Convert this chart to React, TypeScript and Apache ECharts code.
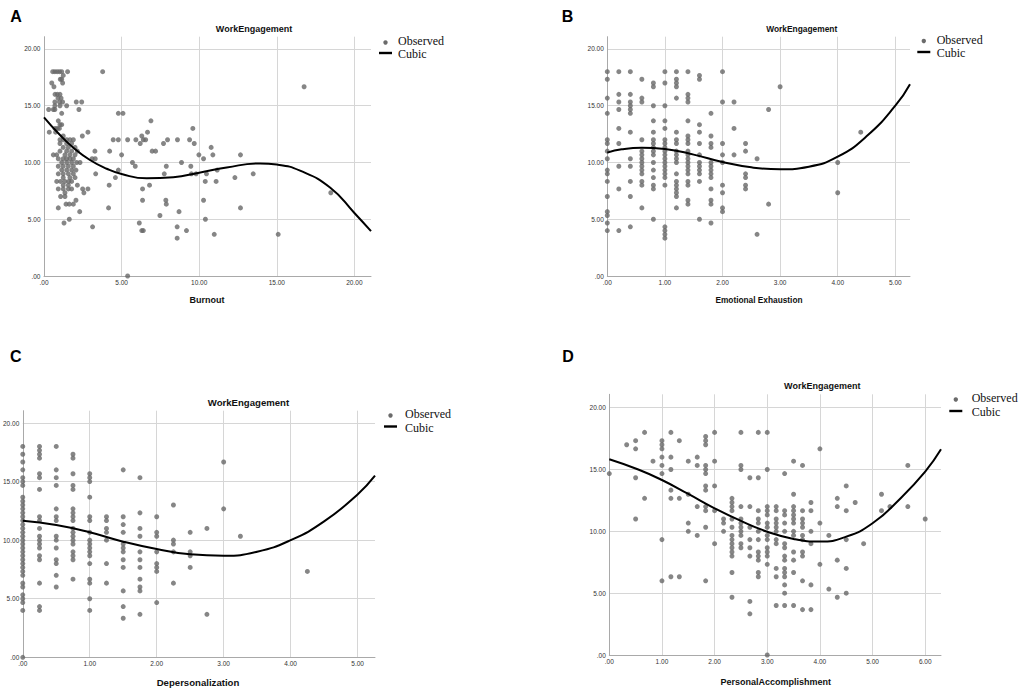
import React, { useEffect, useRef } from "react";
import * as echarts from "echarts";

// ---------- Panel A: Burnout vs WorkEngagement ----------
const burnoutObserved: number[][] = [
  [0.56, 18], [0.7, 18], [0.85, 18], [1.0, 18], [1.14, 18], [1.52, 18], [3.78, 18],
  [1.24, 17.67], [1.05, 17.33], [1.14, 17.33], [0.5, 17], [1.2, 17], [0.64, 16.67],
  [0.71, 16], [0.86, 16], [1.03, 16], [0.9, 15.67], [1.1, 15.67], [1.2, 15.33], [1.0, 15.33],
  [0.7, 15.33], [1.46, 15], [0.7, 15], [1.03, 15], [0.3, 14.67], [0.6, 14.67], [0.7, 14.67],
  [1.14, 14.33], [2.08, 15.33], [2.43, 15.33], [2.25, 14.67],
  [0.92, 13.67], [1.03, 13.33], [1.14, 13.33], [0.71, 13], [0.86, 13], [0.99, 13],
  [0.34, 12.67], [0.75, 12.67], [1.24, 12.33],
  [1.03, 12], [1.24, 12], [1.46, 12], [1.67, 12], [1.89, 12],
  [1.03, 11.67], [1.46, 11.67], [1.78, 11.67],
  [1.24, 11.33], [1.57, 11.33], [2.0, 11.33],
  [1.03, 11], [1.46, 11], [1.78, 11], [2.15, 11],
  [0.6, 10.67], [0.82, 10.67], [1.35, 10.67], [1.67, 10.67], [2.0, 10.67],
  [0.92, 10.33], [1.24, 10.33], [1.46, 10.33], [1.67, 10.33], [1.89, 10.33],
  [1.14, 10], [1.46, 10], [1.78, 10], [2.1, 10],
  [0.92, 9.67], [1.24, 9.67], [1.57, 9.67], [1.89, 9.67],
  [1.14, 9.33], [1.46, 9.33], [1.78, 9.33], [2.06, 9.33],
  [0.92, 9], [1.24, 9], [1.57, 9], [1.89, 9],
  [1.24, 8.67], [1.67, 8.67], [2.0, 8.67],
  [0.82, 8.33], [1.07, 8.33], [1.35, 8.33], [1.6, 8.33], [1.78, 8.33],
  [1.24, 8], [1.57, 8], [2.15, 8],
  [0.92, 7.67], [1.24, 7.67], [1.57, 7.67], [1.78, 7.67],
  [1.35, 7.33], [1.07, 7], [1.35, 7],
  [1.42, 6.33], [1.63, 6.33], [1.89, 6.33], [2.06, 6.67],
  [0.92, 6], [1.63, 5], [1.29, 4.67],
  [16.76, 16.67], [4.79, 14.33], [5.09, 14.33], [6.89, 13.67], [9.59, 13], [6.67, 12.67],
  [2.83, 12.67], [2.47, 12.33], [4.46, 12], [4.79, 12], [5.39, 12], [5.92, 12], [6.3, 12.33],
  [6.4, 12], [6.2, 11.67], [6.55, 12], [7.96, 12], [8.6, 12], [9.38, 12],
  [9.68, 11.67], [7.7, 11.67], [10.77, 11.33], [6.97, 11], [7.19, 11], [4.23, 11], [3.28, 11],
  [5.0, 10.67], [9.98, 10.67], [10.88, 10.67], [12.66, 10.67], [10.28, 10.33], [3.1, 10.33],
  [3.3, 10.33], [2.32, 10], [5.7, 10], [5.88, 9.67], [8.86, 10], [7.88, 9.67], [9.46, 9.67],
  [4.79, 9.33], [4.6, 8.67], [3.33, 9], [7.75, 9], [9.5, 9], [9.8, 9], [10.47, 9], [11.16, 9.33],
  [13.48, 9], [12.3, 8.67], [10.39, 8.33], [11.09, 8.33], [4.2, 8], [6.8, 8], [6.35, 7.67],
  [2.49, 7.67], [2.57, 7.33], [2.83, 7.67], [7.85, 6.67], [7.88, 6.33], [6.35, 6.67],
  [10.28, 6.67], [18.48, 7.33], [12.66, 6], [4.16, 6], [2.3, 5.67], [8.7, 5.67], [7.47, 5.33],
  [10.4, 5], [6.14, 4.67], [6.3, 4], [6.4, 4], [8.58, 4.33], [9.18, 4], [3.13, 4.33],
  [8.58, 3.33], [10.97, 3.67], [15.09, 3.67], [5.39, 0],
];
const burnoutCubic: number[][] = [
  [0, 13.98], [1.03, 12.42], [1.89, 11.3], [2.96, 10.22], [4.04, 9.45], [5, 8.98],
  [6.62, 8.6], [8.33, 8.7], [10, 9.1], [11.77, 9.56], [13.92, 9.92], [15, 9.82],
  [16.5, 9.28], [18.43, 7.8], [20, 5.55], [21.07, 3.95],
];

// ---------- Panel B: Emotional Exhaustion ----------
const exhaustionColumns: [number, number[]][] = [
  [0, [18, 17.33, 15.67, 14.33, 12, 11.67, 11, 10.33, 9.33, 9, 8.33, 7, 5.67, 5.33, 4.67, 4]],
  [0.2, [18, 16, 15.33, 14.67, 13, 11.67, 9.67, 7.67, 4]],
  [0.4, [18, 16, 15.33, 15, 14.67, 14.33, 12.67, 10.33, 9.67, 8.33, 7, 4.33]],
  [0.6, [17.33, 15.67, 15.33, 12, 11, 10.67, 10.33, 10, 9.67, 9.33, 9, 8.33, 8, 6]],
  [0.8, [17, 16.67, 15, 13.67, 12.67, 12, 11.67, 11.33, 11, 10.67, 10, 9.33, 8.67, 8, 7.67, 5]],
  [1.0, [18, 17, 15, 13.67, 13, 12, 11.67, 11.33, 11, 10.67, 10.33, 10, 9.67, 9.33, 9, 8.67, 8, 4.33, 4, 3.67, 3.33]],
  [1.2, [18, 17.33, 17, 16.67, 15.67, 12.67, 12, 11.67, 11, 10.67, 10.33, 10, 9, 8.33, 8, 7.67, 7.33, 7, 6]],
  [1.4, [18, 16, 15.67, 15.33, 13.67, 12.33, 12, 11.67, 11, 10.67, 10.33, 10, 9.67, 9.33, 9, 8.33, 8, 6.67, 6.33]],
  [1.6, [17.67, 17.33, 13.33, 12.67, 11.67, 10.67, 10, 9.67, 9.33, 9, 8.33, 5]],
  [1.8, [14.33, 12.33, 11.67, 11.33, 10, 9.67, 9.33, 9, 8.67, 7.67, 6.67, 6.33, 4.67]],
  [2.0, [18, 15.33, 11.67, 10.67, 10, 8, 7.33, 6, 5.67]],
  [2.2, [15.33, 13, 10.67]],
  [2.4, [11.67, 11, 9, 8.67, 8, 7.67]],
  [2.6, [10.33, 3.67]],
  [2.8, [14.67, 6.33]],
  [3.0, [16.67]],
  [4.0, [10, 7.33]],
  [4.4, [12.67]],
];
const exhaustionCubic: number[][] = [
  [0, 10.87], [0.25, 11.16], [0.6, 11.3], [1, 11.19], [1.5, 10.69], [2, 10.04], [2.5, 9.57],
  [3, 9.4], [3.5, 9.63], [4, 10.51], [4.5, 12.3], [5, 15.0], [5.255, 16.9],
];

// ---------- Panel C: Depersonalization ----------
const depersonalizationColumns: [number, number[]][] = [
  [0, [18, 17.33, 16.67, 16, 15.33, 15, 14.67, 13.67, 13.33, 13, 12.67, 12.33, 12, 11.67, 11.33, 11, 10.67, 10.33, 10, 9.67, 9.33, 9, 8.67, 8.33, 8, 7.67, 7.33, 7, 6.33, 6, 5.33, 5, 4.67, 4, 0]],
  [0.25, [18, 17.67, 17.33, 17, 15.67, 15.33, 14.33, 12, 11.67, 11, 10.33, 10, 9.67, 9.33, 8.67, 8.33, 6.33, 4.33, 4]],
  [0.5, [18, 16, 15.33, 14.67, 12.67, 12, 11.67, 10.33, 10, 9.33, 8.33, 8, 7, 6]],
  [0.75, [17.33, 17, 15.67, 14.67, 14.33, 12.67, 12.33, 12, 11.67, 11, 10.67, 10.33, 10, 9.67, 9, 8.67, 8.33, 6.67]],
  [1.0, [15.67, 15.33, 15, 13.67, 12, 11.67, 10.67, 10, 9.67, 9.33, 9, 8.67, 8, 6.67, 6.33, 5, 4]],
  [1.25, [12, 11.67, 11, 10.67, 10, 8, 6.33]],
  [1.5, [16, 12, 11.33, 10.67, 9.67, 9.33, 9, 8.33, 7.67, 5.67, 4.33, 3.33]],
  [1.75, [15.33, 12.33, 11, 10.33, 9, 8.33, 7.67, 6.67, 6, 5.67, 3.67]],
  [2.0, [12, 10.67, 10.33, 9, 8, 7.67, 7.33, 4.67]],
  [2.25, [13, 10, 9.67, 9, 6.33]],
  [2.5, [10.67, 9, 8.67, 7.67]],
  [2.75, [11, 3.67]],
  [3.0, [16.67, 12.67]],
  [3.25, [10.33]],
  [4.25, [7.33]],
];
const depersonalizationCubic: number[][] = [
  [0, 11.66], [0.5, 11.29], [1, 10.67], [1.5, 9.87], [2, 9.24], [2.5, 8.79], [3, 8.67],
  [3.5, 9.01], [4, 10.0], [4.5, 11.6], [5, 13.9], [5.26, 15.5],
];

// ---------- Panel D: Personal Accomplishment ----------
const accomplishmentColumns: [number, number[]][] = [
  [0, [14.67]],
  [0.33, [17]],
  [0.5, [17.33, 16.67, 14.33, 11]],
  [0.67, [18, 12.67]],
  [0.83, [15.67]],
  [1.0, [17.33, 17, 16.67, 16, 15.33, 14.67, 9.33, 6]],
  [1.17, [18, 16, 15, 13.33, 12.67, 6.33]],
  [1.33, [17.33, 12.67, 6.33]],
  [1.5, [15.67, 13, 10.67, 10]],
  [1.67, [16, 15.33, 12, 9.67]],
  [1.83, [17.67, 17.33, 17, 15.33, 15, 14.67, 13.67, 13.33, 12, 11.67, 10.33, 6]],
  [2.0, [18, 15.67, 13.67, 11.67, 9]],
  [2.17, [11, 10.67, 10]],
  [2.33, [12.67, 12.33, 12, 11.67, 11, 10.33, 9.67, 9.33, 9, 8.67, 8.33, 8, 6.67, 4.67]],
  [2.5, [18, 15.33, 15, 12, 11, 10.67, 10.33, 10, 9.67, 9, 8.67]],
  [2.67, [14.33, 12, 10.33, 9.33, 8.67, 8, 4.33, 3.33]],
  [2.83, [18, 14.33, 11.67, 11, 10.67, 10, 9.33, 8.33, 8, 7.67, 6.67, 6.33]],
  [3.0, [18, 15, 12, 11.67, 11.33, 10.67, 10.33, 9.67, 9.33, 8.67, 8.33, 8, 7.33, 0]],
  [3.17, [12, 11.67, 11, 10.67, 10.33, 10, 9.33, 9, 7, 6.33, 4]],
  [3.33, [14.67, 11.67, 11.33, 10.67, 10, 9, 8.67, 8, 7.67, 7, 6.67, 6.33, 5.67, 5, 4]],
  [3.5, [15.67, 13, 12, 11.67, 11.33, 11, 10.67, 10, 9.67, 8.33, 7.67, 6.67, 4]],
  [3.67, [15.33, 11.67, 11, 10.67, 10.33, 9.67, 9.33, 8.33, 8, 6, 3.67]],
  [3.83, [12.33, 11.67, 10, 9, 5.67, 3.67]],
  [4.0, [16.67, 10.67, 7.33]],
  [4.17, [9.67, 5.33]],
  [4.33, [12.67, 12, 7.67, 4.67]],
  [4.5, [13.67, 11.67, 9.33, 7, 5]],
  [4.67, [12.33]],
  [4.83, [9]],
  [5.17, [13, 11.67]],
  [5.33, [12]],
  [5.67, [15.33, 12]],
  [6.0, [11]],
];
const accomplishmentCubic: number[][] = [
  [0, 15.83], [0.55, 15.0], [1, 14.15], [1.5, 13.02], [2, 11.86], [2.5, 10.84], [3, 9.97],
  [3.5, 9.38], [4, 9.17], [4.5, 9.57], [5, 10.65], [5.5, 12.54], [6, 14.83], [6.3, 16.63],
];

const panelLetters = ["A", "B", "C", "D"];
const panelTitle = "WorkEngagement";
const xAxisNames = ["Burnout", "Emotional Exhaustion", "Depersonalization", "PersonalAccomplishment"];
const legendNames = ["Observed", "Cubic"];

const flatten = (cols: [number, number[]][]) =>
  cols.flatMap(([x, ys]) => ys.map((y) => [x, y]));

const SANS = '"Liberation Sans", Arial, sans-serif';
const SERIF = '"Liberation Serif", "Times New Roman", serif';

// layout per panel (pixels)
const panels = [
  { left: 44, top: 36.7, width: 327, height: 239.3, xMax: 21.07, yMax: 21.08, xInt: 5,
    titleX: 254, titleY: 29, titleSize: 9, nameX: 207, nameY: 300, nameSize: 9,
    letterX: 16, letterY: 16, legX: 379, legY1: 41, legY2: 53, textX: 398 },
  { left: 607.3, top: 36.7, width: 302.7, height: 239.3, xMax: 5.255, yMax: 21.08, xInt: 1,
    titleX: 801.7, titleY: 29, titleSize: 8.4, nameX: 759, nameY: 300, nameSize: 8.3,
    letterX: 567.5, letterY: 16, legX: 917.3, legY1: 39.5, legY2: 52, textX: 936.7 },
  { left: 22, top: 410.7, width: 353, height: 246.6, xMax: 5.26, yMax: 21.05, xInt: 1,
    titleX: 248.5, titleY: 402, titleSize: 9.6, nameX: 198, nameY: 682.7, nameSize: 9.6,
    letterX: 15.7, letterY: 356.5, legX: 384, legY1: 414, legY2: 426.5, textX: 405 },
  { left: 609.3, top: 394.3, width: 331.7, height: 260.7, xMax: 6.3, yMax: 21.08, xInt: 1,
    titleX: 822.3, titleY: 386, titleSize: 9, nameX: 775.7, nameY: 682, nameSize: 9,
    letterX: 568, letterY: 356.5, legX: 949.3, legY1: 398, legY2: 411, textX: 971.7 },
];

const fmt = (v: number) => (v === 0 ? ".00" : v.toFixed(2));

export default function App() {
  const ref = useRef<HTMLDivElement>(null);
  useEffect(() => {
    if (!ref.current) return;
    const chart = echarts.init(ref.current, undefined, { renderer: "svg" });
    const observed = [
      burnoutObserved,
      flatten(exhaustionColumns),
      flatten(depersonalizationColumns),
      flatten(accomplishmentColumns),
    ];
    const cubic = [burnoutCubic, exhaustionCubic, depersonalizationCubic, accomplishmentCubic];

    const axisCommon = (max: number, interval: number, margin: number) => ({
      type: "value" as const,
      min: 0,
      max,
      interval,
      axisLine: { show: true, lineStyle: { color: "#a9a9a9", width: 1 } },
      axisTick: { show: false },
      axisLabel: {
        interval: 0,
        showMaxLabel: false,
        color: "#333",
        fontSize: 6.5,
        fontFamily: SANS,
        margin,
        formatter: (v: number) => (Math.abs(v / interval - Math.round(v / interval)) < 1e-6 ? fmt(v) : ""),
      },
      splitLine: {
        show: true,
        showMinLine: false,
        showMaxLine: false,
        lineStyle: { color: "#d6d6d6", width: 1 },
      },
    });

    const graphics: any[] = [];
    panels.forEach((p, i) => {
      graphics.push({
        type: "text",
        style: { text: panelLetters[i], x: p.letterX, y: p.letterY, align: "center", verticalAlign: "middle",
          font: `bold 16px ${SANS}`, fill: "#000" },
      });
      graphics.push({
        type: "text",
        style: { text: panelTitle, x: p.titleX, y: p.titleY, align: "center", verticalAlign: "middle",
          font: `bold ${p.titleSize}px ${SANS}`, fill: "#111" },
      });
      graphics.push({
        type: "text",
        style: { text: xAxisNames[i], x: p.nameX, y: p.nameY, align: "center", verticalAlign: "middle",
          font: `bold ${p.nameSize}px ${SANS}`, fill: "#111" },
      });
      graphics.push({
        type: "circle",
        shape: { cx: p.legX + 6.5, cy: p.legY1 + 1.5, r: 2.2 },
        style: { fill: "#6b6b6b" },
      });
      graphics.push({
        type: "rect",
        shape: { x: p.legX, y: p.legY2 - 1.2, width: 13, height: 2.4 },
        style: { fill: "#000" },
      });
      graphics.push({
        type: "text",
        style: { text: legendNames[0], x: p.textX, y: p.legY1, align: "left", verticalAlign: "middle",
          font: `12px ${SERIF}`, fill: "#111" },
      });
      graphics.push({
        type: "text",
        style: { text: legendNames[1], x: p.textX, y: p.legY2 + 1, align: "left", verticalAlign: "middle",
          font: `12px ${SERIF}`, fill: "#111" },
      });
    });

    chart.setOption({
      animation: false,
      backgroundColor: "#fff",
      grid: panels.map((p) => ({ left: p.left, top: p.top, width: p.width, height: p.height })),
      xAxis: panels.map((p, i) => ({ ...axisCommon(p.xMax, p.xInt, 3), gridIndex: i })),
      yAxis: panels.map((p, i) => ({ ...axisCommon(p.yMax, 5, 3.5), gridIndex: i })),
      series: [
        ...observed.map((d, i) => ({
          type: "scatter",
          name: legendNames[0],
          xAxisIndex: i,
          yAxisIndex: i,
          data: d,
          symbolSize: 5,
          itemStyle: { color: "#686868" },
          z: 2,
        })),
        ...cubic.map((d, i) => ({
          type: "line",
          name: legendNames[1],
          xAxisIndex: i,
          yAxisIndex: i,
          data: d,
          smooth: 0.5,
          showSymbol: false,
          lineStyle: { color: "#000", width: 2 },
          z: 3,
        })),
      ],
      graphic: graphics,
    });
    return () => chart.dispose();
  }, []);
  return (
    <div
      ref={ref}
      style={{ position: "absolute", left: 0, top: 0, width: 1021, height: 696, background: "#fff" }}
    />
  );
}
